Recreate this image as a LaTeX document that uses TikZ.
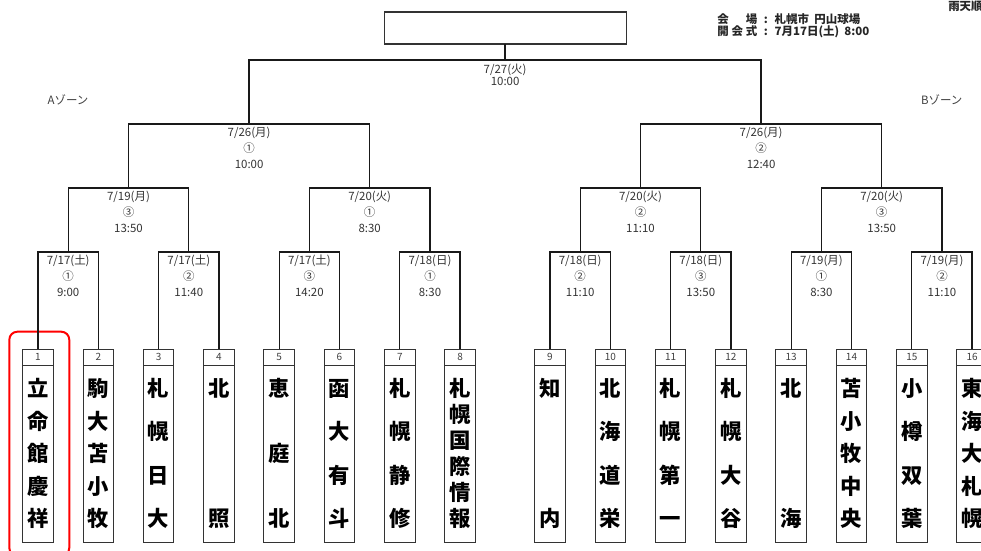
\documentclass[tikz,border=0pt]{standalone}
\usepackage{fontspec}
\setmainfont{Noto Sans CJK JP}
\usepackage{tikz}
\usetikzlibrary{positioning, calc}

% vertical team name, characters spread over the box
\newcommand{\tatename}[1]{\vbox to \dimexpr97.5pt+1em\relax{\offinterlineskip
  \foreach \c [count=\k] in {#1}{\ifnum\k>1 \vfill\fi
  \hbox to 1em{\hss\vrule height .88em depth .12em width 0pt\c\hss}}\kern0pt}}

\begin{document}
\begin{tikzpicture}[x=0.75pt, y=-0.75pt,
      numcell/.style={draw=black!80, line width=0.7pt, minimum width=22.9pt,
      minimum height=12pt, inner sep=0pt, outer sep=0pt, text=black!75,
      font=\fontsize{7.5pt}{8pt}\selectfont},
      namecell/.style={draw=black!80, line width=0.7pt, minimum width=22.9pt,
      minimum height=132.75pt, inner sep=0pt, outer sep=0pt,
      font=\fontsize{16pt}{18pt}\selectfont\bfseries},
      bracket/.style={line width=1pt, black!90},
      datelabel/.style={anchor=north, align=center, inner sep=2.2pt,
      text=black!80, font=\fontsize{8.6pt}{12pt}\selectfont},
      finallabel/.style={anchor=north, align=center, inner sep=2.5pt,
      text=black!80, font=\fontsize{8.6pt}{9.3pt}\selectfont},
      champbox/.style={draw=black!80, line width=0.8pt, minimum width=181.5pt,
      minimum height=24pt, inner sep=0pt, outer sep=0pt},
      zonelabel/.style={text=black!75, font=\fontsize{8.6pt}{10pt}\selectfont},
      infolabel/.style={anchor=west, inner sep=0pt, text=black!85,
      font=\fontsize{8.6pt}{10pt}\selectfont\bfseries},
      highlight/.style={draw=red, line width=1.5pt, rounded corners=6pt} ]

    \useasboundingbox (0,0) rectangle (981,550);
    \clip (0,0) rectangle (981,550);

    % Header
    \node[infolabel] (rain) at (948,6.7) {雨天順};
    \node[infolabel] (venue) at (717,19.5) {\makebox[30pt][s]{会\hfill 場}\hspace{5pt}:\hspace{5pt}札幌市\hspace{4pt}円山球場};
    \node[infolabel] (opening) at (717,31.5) {\makebox[30pt][s]{開\hfill 会\hfill 式}\hspace{5pt}:\hspace{5pt}7月17日(土)\hspace{4pt}8:00};
    \node[zonelabel] (zoneA) at (68,100) {Aゾーン};
    \node[zonelabel] (zoneB) at (941.7,100) {Bゾーン};

    % Champion box
    \node[champbox] (champ) at (505.1,28) {};

    % Teams
    \node[numcell] (n1) at (38,357) {1}; \node[namecell, below=0pt of n1] (t1) {\tatename{立,命,館,慶,祥}};
    \node[numcell] (n2) at (98.3,357) {2}; \node[namecell, below=0pt of n2] (t2) {\tatename{駒,大,苫,小,牧}};
    \node[numcell] (n3) at (158.6,357) {3}; \node[namecell, below=0pt of n3] (t3) {\tatename{札,幌,日,大}};
    \node[numcell] (n4) at (218.9,357) {4}; \node[namecell, below=0pt of n4] (t4) {\tatename{北,照}};
    \node[numcell] (n5) at (279.2,357) {5}; \node[namecell, below=0pt of n5] (t5) {\tatename{恵,庭,北}};
    \node[numcell] (n6) at (339.5,357) {6}; \node[namecell, below=0pt of n6] (t6) {\tatename{函,大,有,斗}};
    \node[numcell] (n7) at (399.8,357) {7}; \node[namecell, below=0pt of n7] (t7) {\tatename{札,幌,静,修}};
    \node[numcell] (n8) at (460.1,357) {8}; \node[namecell, below=0pt of n8] (t8) {\tatename{札,幌,国,際,情,報}};
    \node[numcell] (n9) at (550,357) {9}; \node[namecell, below=0pt of n9] (t9) {\tatename{知,内}};
    \node[numcell] (n10) at (610.3,357) {10}; \node[namecell, below=0pt of n10] (t10) {\tatename{北,海,道,栄}};
    \node[numcell] (n11) at (670.6,357) {11}; \node[namecell, below=0pt of n11] (t11) {\tatename{札,幌,第,一}};
    \node[numcell] (n12) at (730.9,357) {12}; \node[namecell, below=0pt of n12] (t12) {\tatename{札,幌,大,谷}};
    \node[numcell] (n13) at (791.2,357) {13}; \node[namecell, below=0pt of n13] (t13) {\tatename{北,海}};
    \node[numcell] (n14) at (851.5,357) {14}; \node[namecell, below=0pt of n14] (t14) {\tatename{苫,小,牧,中,央}};
    \node[numcell] (n15) at (911.8,357) {15}; \node[namecell, below=0pt of n15] (t15) {\tatename{小,樽,双,葉}};
    \node[numcell] (n16) at (972.1,357) {16}; \node[namecell, below=0pt of n16] (t16) {\tatename{東,海,大,札,幌}};

    % Highlight around team 1
    \draw[highlight] ($(n1.north west)+(-13.4,-17.3)$) rectangle ($(t1.south east)+(16,14)$);

    % Match points
    \coordinate (m1) at (68.2,252); \coordinate (m2) at (188.8,252);
    \coordinate (m3) at (309.4,252); \coordinate (m4) at (430,252);
    \coordinate (m5) at (580.2,252); \coordinate (m6) at (700.8,252);
    \coordinate (m7) at (821.4,252); \coordinate (m8) at (942,252);
    \coordinate (r1) at (128.5,188); \coordinate (r2) at (369.7,188);
    \coordinate (r3) at (640.5,188); \coordinate (r4) at (881.7,188);
    \coordinate (q1) at (249.1,124); \coordinate (q2) at (761.1,124);
    \coordinate (f) at (505.1,60);

    % First round
    \draw[bracket] (n1.north) |- (m1) -| (n2.north); \draw[bracket] (n3.north) |- (m2) -| (n4.north);
    \draw[bracket] (n5.north) |- (m3) -| (n6.north); \draw[bracket] (n7.north) |- (m4) -| (n8.north);
    \draw[bracket] (n9.north) |- (m5) -| (n10.north); \draw[bracket] (n11.north) |- (m6) -| (n12.north);
    \draw[bracket] (n13.north) |- (m7) -| (n14.north); \draw[bracket] (n15.north) |- (m8) -| (n16.north);

    % Second round, semifinals, final
    \draw[bracket] (m1) |- (r1) -| (m2); \draw[bracket] (m3) |- (r2) -| (m4);
    \draw[bracket] (m5) |- (r3) -| (m6); \draw[bracket] (m7) |- (r4) -| (m8);
    \draw[bracket] (r1) |- (q1) -| (r2); \draw[bracket] (r3) |- (q2) -| (r4);
    \draw[bracket] (q1) |- (f) -| (q2);
    \draw[bracket] (champ.south) -- (f);

    % Dates and start times
    \node[datelabel] (l1) at (m1) {7/17(土)\\①\\9:00};
    \node[datelabel] (l2) at (m2) {7/17(土)\\②\\11:40};
    \node[datelabel] (l3) at (m3) {7/17(土)\\③\\14:20};
    \node[datelabel] (l4) at (m4) {7/18(日)\\①\\8:30};
    \node[datelabel] (l5) at (m5) {7/18(日)\\②\\11:10};
    \node[datelabel] (l6) at (m6) {7/18(日)\\③\\13:50};
    \node[datelabel] (l7) at (m7) {7/19(月)\\①\\8:30};
    \node[datelabel] (l8) at (m8) {7/19(月)\\②\\11:10};
    \node[datelabel] (lr1) at (r1) {7/19(月)\\③\\13:50};
    \node[datelabel] (lr2) at (r2) {7/20(火)\\①\\8:30};
    \node[datelabel] (lr3) at (r3) {7/20(火)\\②\\11:10};
    \node[datelabel] (lr4) at (r4) {7/20(火)\\③\\13:50};
    \node[datelabel] (lq1) at (q1) {7/26(月)\\①\\10:00};
    \node[datelabel] (lq2) at (q2) {7/26(月)\\②\\12:40};
    \node[finallabel] (lf) at (f) {7/27(火)\\10:00};

    \end{tikzpicture}
\end{document}
